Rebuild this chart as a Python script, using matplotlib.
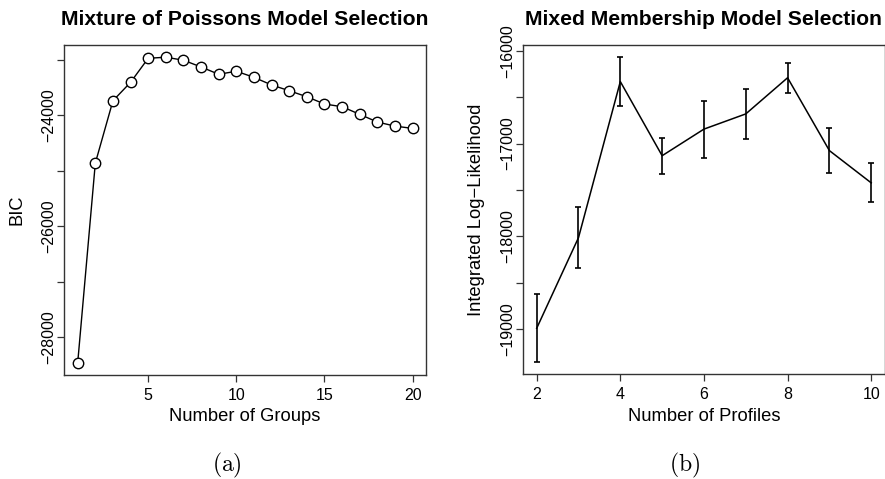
import matplotlib
matplotlib.use("Agg")
import matplotlib.pyplot as plt
import numpy as np

plt.rcParams['font.family'] = ['Liberation Sans', 'DejaVu Sans']
plt.rcParams['mathtext.fontset'] = 'cm'

# ---- data ----
groups = list(range(1, 21))
bic = [-28464, -24866, -23742, -23410, -22977, -22958, -23012, -23134, -23265,
       -23211, -23320, -23458, -23562, -23670, -23801, -23850, -23987, -24126,
       -24199, -24241]

profiles = [2, 3, 4, 5, 6, 7, 8, 9, 10]
loglik = [-18993, -18015, -16331, -17131, -16844, -16680, -16290, -17076, -17424]
loglik_err = [365, 330, 263, 193, 308, 266, 164, 242, 209]

left_yticks = [-23000, -24000, -25000, -26000, -27000, -28000]
left_ylabels = ['', '\u221224000', '', '\u221226000', '', '\u221228000']
left_xticks = [5, 10, 15, 20]
right_yticks = [-16000, -16500, -17000, -17500, -18000, -18500, -19000]
right_ylabels = ['\u221216000', '', '\u221217000', '', '\u221218000', '', '\u221219000']
right_xticks = [2, 4, 6, 8, 10]

W, H = 885, 479
fig = plt.figure(figsize=(W / 100, H / 100), dpi=100)


def rlim(lo, hi):
    e = 0.04 * (hi - lo)
    return lo - e, hi + e


def style(ax):
    for s in ax.spines.values():
        s.set_color('#333333')
        s.set_linewidth(1.0)
    ax.tick_params(direction='out', length=5, width=0.9, color='#333333',
                   labelsize=11.5)
    ax.tick_params(axis='x', pad=4)
    ax.tick_params(axis='y', pad=1)


# ---- left panel ----
axL = fig.add_axes([64.3 / W, 1 - 375 / H, (426 - 64.3) / W, 330 / H])
axL.plot(groups, bic, color='black', lw=1.0, marker='o', ms=7.5,
         mfc='white', mec='black', mew=1.0, zorder=3)
axL.set_xlim(*rlim(min(groups), max(groups)))
axL.set_ylim(*rlim(min(bic), max(bic)))
axL.set_xticks(left_xticks)
axL.set_yticks(left_yticks)
axL.set_yticklabels(left_ylabels)
style(axL)
axL.set_xlabel('Number of Groups', fontsize=13.2)
axL.set_ylabel('BIC', fontsize=13.2)
axL.xaxis.set_label_coords(0.5, (375 - 416.7) / 330)
axL.xaxis.label.set_va('center')
axL.yaxis.set_label_coords((16.7 - 64.3) / 361.7, 0.5)
axL.yaxis.label.set_va('center')
for lbl in axL.get_yticklabels():
    lbl.set_rotation(90)
    lbl.set_va('center')
fig.text((61 + 429) / 2 / W, 1 - 19.5 / H, 'Mixture of Poissons Model Selection',
         ha='center', va='center', fontsize=15.2, fontweight='bold')
fig.text(227 / W, 1 - 465 / H, r'$\mathrm{(a)}$', ha='center', va='center',
         fontsize=17)

# ---- right panel ----
axR = fig.add_axes([523.3 / W, 1 - 374.3 / H, (884.6 - 523.3) / W, 329.3 / H])
axR.errorbar(profiles, loglik, yerr=loglik_err, color='black', lw=1.1,
             elinewidth=1.2, capsize=2.5, capthick=1.2, zorder=3)
lo = min(np.array(loglik) - np.array(loglik_err))
hi = max(np.array(loglik) + np.array(loglik_err))
axR.set_xlim(*rlim(min(profiles), max(profiles)))
axR.set_ylim(*rlim(lo, hi))
axR.set_xticks(right_xticks)
axR.set_yticks(right_yticks)
axR.set_yticklabels(right_ylabels)
style(axR)
axR.set_xlabel('Number of Profiles', fontsize=13.2)
axR.set_ylabel('Integrated Log\u2212Likelihood', fontsize=13.2)
axR.xaxis.set_label_coords(0.5, (374.3 - 416.7) / 329.3)
axR.xaxis.label.set_va('center')
axR.yaxis.set_label_coords((476.7 - 523.3) / 361.3, 0.5)
axR.yaxis.label.set_va('center')
for lbl in axR.get_yticklabels():
    lbl.set_rotation(90)
    lbl.set_va('center')
fig.text(703 / W, 1 - 19.5 / H, 'Mixed Membership Model Selection',
         ha='center', va='center', fontsize=15.2, fontweight='bold')
fig.text(685 / W, 1 - 465 / H, r'$\mathrm{(b)}$', ha='center', va='center',
         fontsize=17)

fig.savefig('out.png', dpi=100)
